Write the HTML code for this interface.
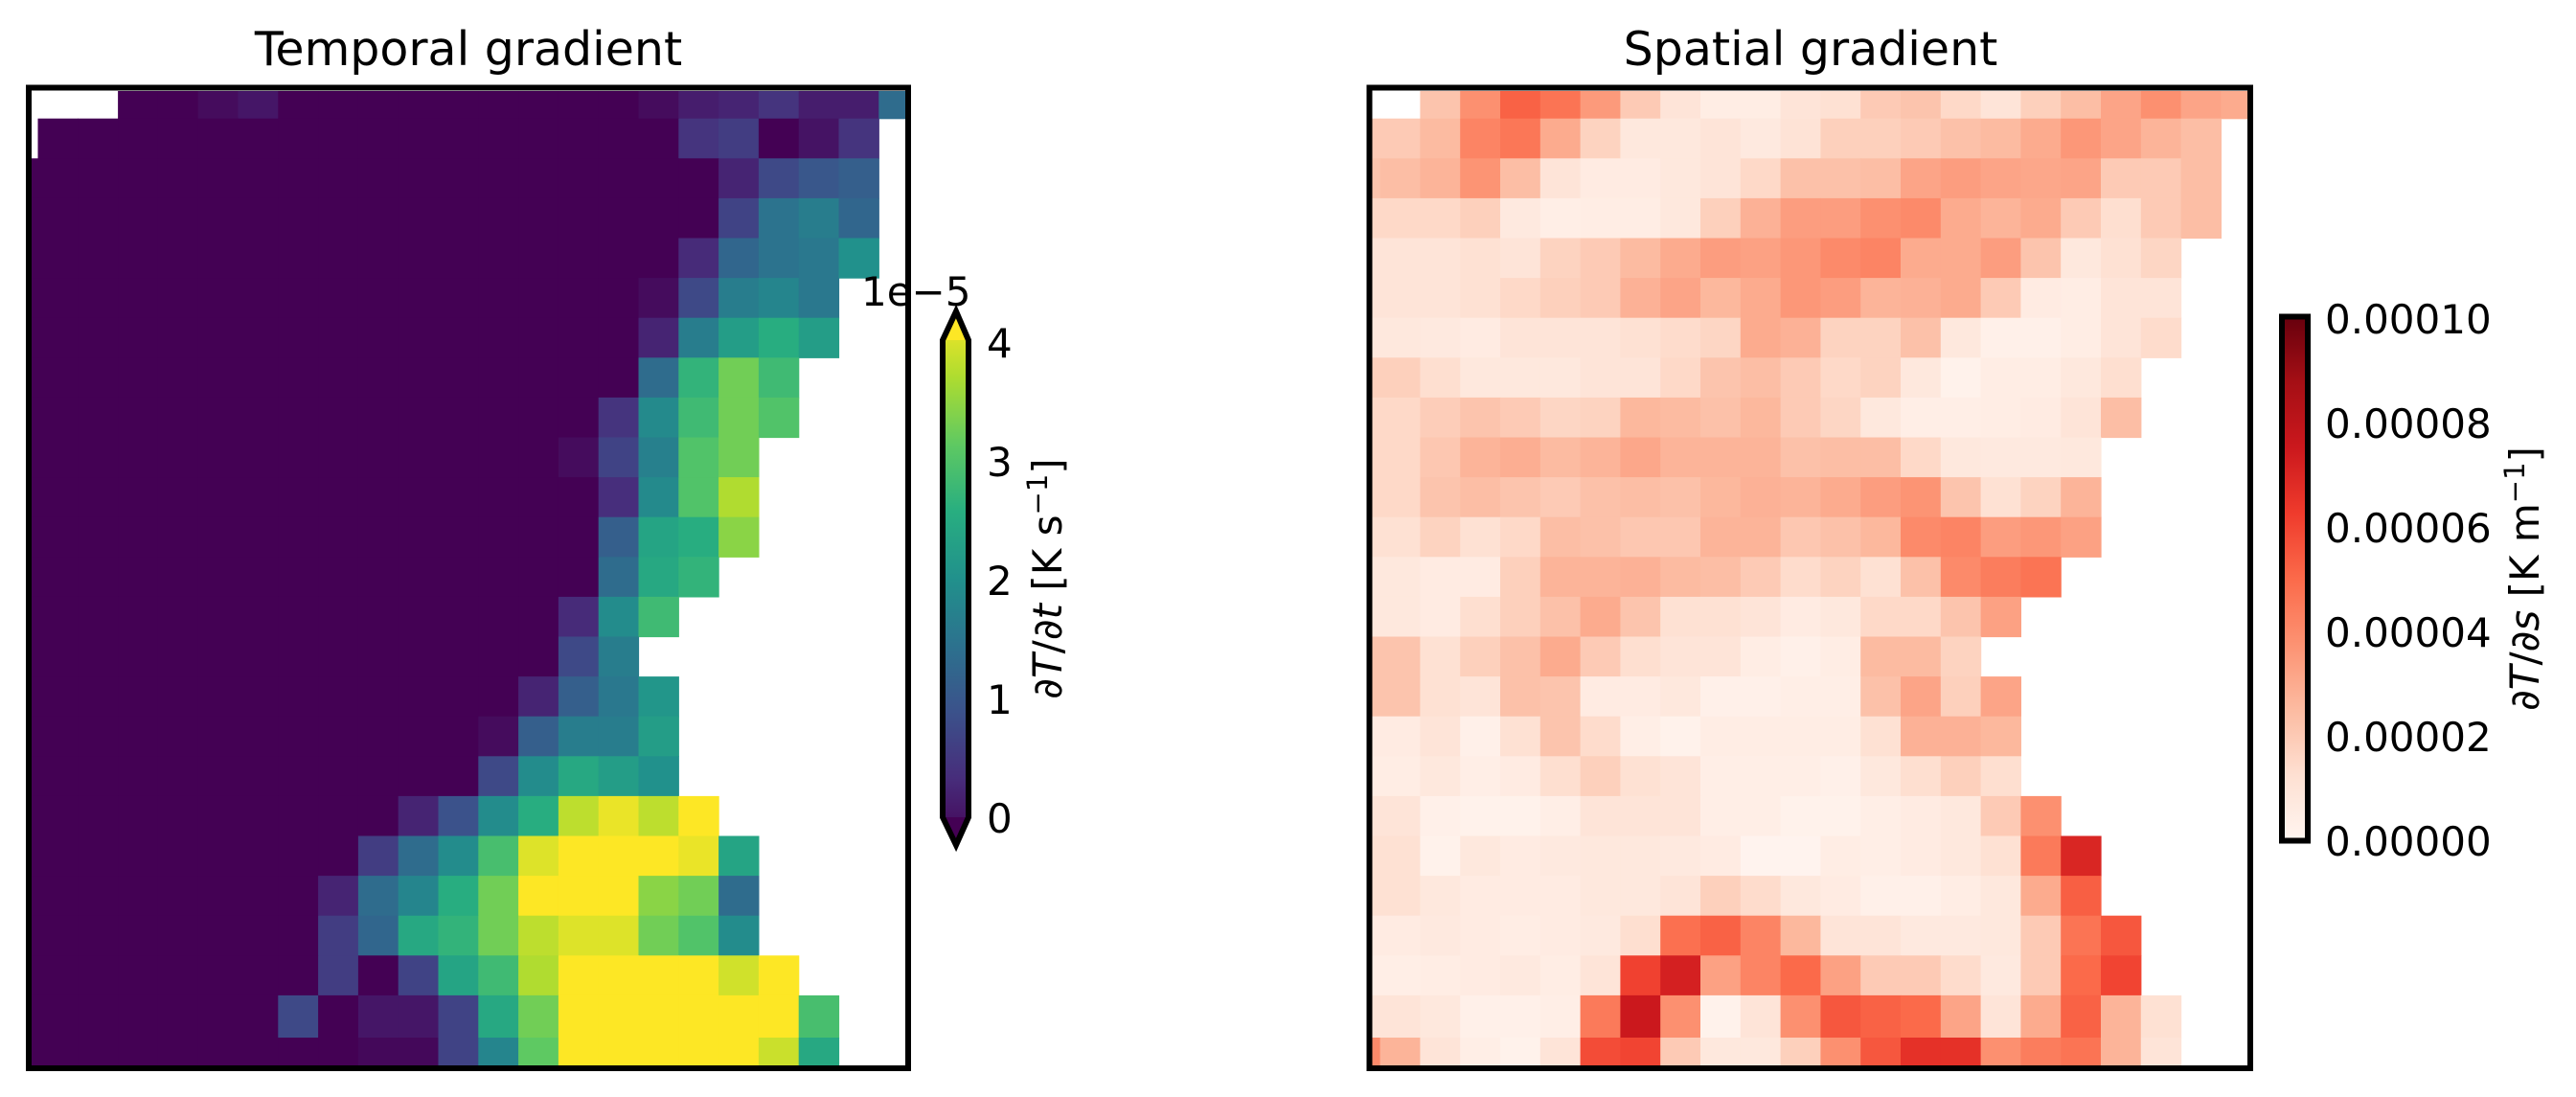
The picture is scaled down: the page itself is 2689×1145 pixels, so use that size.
<!DOCTYPE html>
<html><head><meta charset="utf-8">
<style>
html,body{margin:0;padding:0;background:#fff;}
svg{display:block;}
text{font-family:"DejaVu Sans","Liberation Sans",sans-serif;fill:#000;}
</style></head>
<body>
<svg id="s" xmlns="http://www.w3.org/2000/svg" width="2689" height="1145" viewBox="0 0 2689 1145">
<defs>
<linearGradient id="gv" x1="0" y1="1" x2="0" y2="0">
<stop offset="0" stop-color="#440154"/><stop offset=".125" stop-color="#472d7b"/><stop offset=".25" stop-color="#3b528b"/><stop offset=".375" stop-color="#2c728e"/><stop offset=".5" stop-color="#21918c"/><stop offset=".625" stop-color="#28ae80"/><stop offset=".75" stop-color="#5ec962"/><stop offset=".875" stop-color="#addc30"/><stop offset="1" stop-color="#fde725"/>
</linearGradient>
<linearGradient id="gr" x1="0" y1="1" x2="0" y2="0">
<stop offset="0" stop-color="#fff5f0"/><stop offset=".125" stop-color="#fee0d2"/><stop offset=".25" stop-color="#fcbba1"/><stop offset=".375" stop-color="#fc9272"/><stop offset=".5" stop-color="#fb6a4a"/><stop offset=".625" stop-color="#ef3b2c"/><stop offset=".75" stop-color="#cb181d"/><stop offset=".875" stop-color="#a50f15"/><stop offset="1" stop-color="#67000d"/>
</linearGradient>
</defs>
<g id="cellsL"></g>
<g id="cellsR"></g>
<rect x="30" y="91.5" width="918" height="1023.5" fill="none" stroke="#000" stroke-width="6"/>
<rect x="1429.5" y="91.5" width="919.5" height="1023.5" fill="none" stroke="#000" stroke-width="6"/>
<text x="489" y="68" font-size="49" text-anchor="middle">Temporal gradient</text>
<text x="1890" y="68" font-size="49" text-anchor="middle">Spatial gradient</text>
<polygon points="998,325 1011,355 1011,853 998,882 984,853 984,355" fill="url(#gv)"/>
<polygon points="998,325 1011,355 984,355" fill="#fde725"/>
<polygon points="998,882 1011,853 984,853" fill="#440154"/>
<polygon points="998,325 1011,355 1011,853 998,882 984,853 984,355" fill="none" stroke="#000" stroke-width="6" stroke-linejoin="miter"/>
<text x="1030" y="373" font-size="42">4</text>
<text x="1030" y="497" font-size="42">3</text>
<text x="1030" y="621" font-size="42">2</text>
<text x="1030" y="745" font-size="42">1</text>
<text x="1030" y="869" font-size="42">0</text>
<text x="899" y="319" font-size="42">1e−5</text>
<text transform="translate(1108,604) rotate(-90)" font-size="42" text-anchor="middle"><tspan font-style="italic">∂T</tspan>/<tspan font-style="italic">∂t</tspan> [K s<tspan dy="-15" font-size="29">−1</tspan><tspan dy="15">]</tspan></text>
<rect x="2382" y="330.5" width="27" height="547" fill="url(#gr)" stroke="#000" stroke-width="6"/>
<text x="2427" y="348" font-size="42">0.00010</text>
<text x="2427" y="457" font-size="42">0.00008</text>
<text x="2427" y="566" font-size="42">0.00006</text>
<text x="2427" y="675" font-size="42">0.00004</text>
<text x="2427" y="784" font-size="42">0.00002</text>
<text x="2427" y="893" font-size="42">0.00000</text>
<text transform="translate(2650,604) rotate(-90)" font-size="42" text-anchor="middle"><tspan font-style="italic">∂T</tspan>/<tspan font-style="italic">∂s</tspan> [K m<tspan dy="-15" font-size="29">−1</tspan><tspan dy="15">]</tspan></text>
</svg>
<script>
var V=[[0,"#440154"],[.125,"#472d7b"],[.25,"#3b528b"],[.375,"#2c728e"],[.5,"#21918c"],[.625,"#28ae80"],[.75,"#5ec962"],[.875,"#addc30"],[1,"#fde725"]];
var R=[[0,"#fff5f0"],[.125,"#fee0d2"],[.25,"#fcbba1"],[.375,"#fc9272"],[.5,"#fb6a4a"],[.625,"#ef3b2c"],[.75,"#cb181d"],[.875,"#a50f15"],[1,"#67000d"]];
function h(c){return [parseInt(c.substr(1,2),16),parseInt(c.substr(3,2),16),parseInt(c.substr(5,2),16)];}
function cm(m,v){if(v<0)v=0;if(v>1)v=1;for(var i=0;i<m.length-1;i++){if(v<=m[i+1][0]){var t=(v-m[i][0])/(m[i+1][0]-m[i][0]);var a=h(m[i][1]),b=h(m[i+1][1]);return "rgb("+Math.round(a[0]+(b[0]-a[0])*t)+","+Math.round(a[1]+(b[1]-a[1])*t)+","+Math.round(a[2]+(b[2]-a[2])*t)+")";}}return m[m.length-1][1];}
function r(n,l){var o=[];for(var i=0;i<n;i++)o.push(0);o=o.concat(l);while(o.length<23)o.push(-1);return o;}
function p(l){var o=l.slice();while(o.length<23)o.push(-1);return o;}
var L=[
[-1,-1,-1,0,0,.03,.06,0,0,0,0,0,0,0,0,0,.03,.08,.1,.15,.08,.08,.35],
[-1,0,0,0,0,0,0,0,0,0,0,0,0,0,0,0,0,.15,.18,0,.05,.15,-1],
r(18,[.1,.22,.27,.3]),r(18,[.2,.38,.42,.33]),r(17,[.12,.33,.38,.4,.5]),r(16,[.03,.22,.42,.45,.4]),
r(16,[.1,.42,.55,.62,.55]),r(16,[.35,.65,.78,.68]),r(15,[.15,.47,.68,.78,.72]),r(14,[.03,.2,.43,.72,.78]),
r(15,[.13,.47,.72,.88]),r(15,[.3,.58,.62,.82]),r(15,[.35,.6,.65]),r(14,[.12,.48,.68]),r(14,[.22,.42]),
r(13,[.1,.3,.4,.52]),r(12,[.03,.3,.42,.42,.55]),r(12,[.22,.48,.6,.55,.5]),
r(10,[.1,.25,.48,.62,.9,.97,.9,1]),r(9,[.18,.35,.48,.7,.95,1,1,1,.97,.58]),
r(8,[.1,.35,.45,.62,.78,1,1,1,.82,.78,.35]),r(8,[.18,.33,.6,.65,.78,.9,.95,.95,.78,.72,.48]),
r(8,[.18,0,.2,.58,.68,.88,1,1,1,1,.93,1]),r(7,[.22,0,.06,.06,.2,.6,.78,1,1,1,1,1,1,.7]),
r(9,[.02,.02,.2,.45,.75,1,1,1,1,1,.92,.6])];
var S=[
p([-1,-1,.22,.38,.52,.47,.35,.2,.1,.05,.05,.1,.12,.2,.22,.15,.1,.18,.24,.32,.38,.32,.3]),
p([.2,.2,.25,.42,.46,.3,.17,.08,.08,.1,.07,.11,.18,.18,.2,.23,.25,.3,.36,.32,.27,.24]),
p([.22,.24,.27,.37,.24,.1,.06,.06,.08,.1,.15,.23,.23,.24,.32,.34,.32,.31,.32,.2,.2,.24]),
p([.15,.15,.15,.18,.07,.04,.05,.05,.08,.18,.28,.34,.34,.38,.4,.3,.27,.3,.2,.13,.2,.24]),
p([.1,.1,.1,.12,.1,.17,.2,.25,.3,.34,.33,.36,.4,.42,.3,.3,.34,.22,.08,.12,.16]),
p([.1,.1,.1,.12,.15,.18,.2,.28,.32,.26,.3,.36,.34,.27,.28,.3,.2,.06,.05,.1,.1]),
p([.08,.08,.07,.06,.1,.1,.1,.12,.14,.16,.3,.28,.17,.17,.23,.08,.03,.03,.05,.1,.14]),
p([.18,.18,.13,.08,.08,.08,.1,.1,.15,.22,.24,.2,.15,.17,.08,.02,.05,.05,.08,.13]),
p([.15,.15,.19,.22,.2,.16,.17,.26,.25,.23,.26,.2,.16,.08,.04,.04,.05,.06,.1,.24]),
p([.15,.15,.21,.27,.29,.25,.27,.31,.27,.27,.27,.23,.24,.24,.15,.08,.07,.07,.08]),
p([.15,.15,.22,.24,.22,.2,.23,.24,.23,.26,.28,.27,.3,.34,.37,.22,.12,.17,.27]),
p([.12,.12,.17,.12,.15,.24,.23,.21,.21,.27,.27,.21,.23,.26,.4,.42,.34,.36,.33]),
p([.08,.08,.06,.06,.18,.27,.27,.28,.25,.24,.2,.14,.17,.12,.23,.4,.44,.47]),
p([.08,.08,.06,.13,.18,.23,.3,.22,.12,.12,.1,.06,.08,.15,.15,.22,.33]),
p([.22,.22,.12,.18,.23,.3,.2,.13,.1,.1,.05,.03,.05,.25,.25,.17]),
p([.22,.22,.12,.1,.23,.22,.06,.06,.08,.03,.03,.04,.04,.23,.32,.18,.32]),
p([.06,.06,.1,.03,.12,.22,.14,.04,.02,.05,.05,.05,.05,.12,.28,.28,.26]),
p([.05,.05,.08,.04,.06,.13,.18,.12,.1,.04,.04,.04,.03,.08,.13,.18,.13]),
p([.1,.1,.03,.02,.02,.04,.1,.1,.1,.04,.04,.02,.02,.04,.06,.08,.2,.38]),
p([.12,.12,.02,.08,.06,.07,.08,.08,.07,.06,.01,.01,.05,.04,.06,.08,.12,.45,.7]),
p([.12,.12,.08,.06,.06,.06,.08,.08,.1,.18,.14,.08,.06,.03,.03,.05,.08,.3,.53]),
p([.06,.06,.07,.06,.05,.06,.07,.13,.48,.52,.42,.26,.1,.1,.07,.07,.08,.2,.47,.55]),
p([.04,.04,.05,.06,.07,.05,.1,.61,.72,.33,.42,.5,.33,.2,.2,.14,.07,.2,.5,.6]),
p([.1,.1,.08,.03,.03,.04,.45,.75,.38,.02,.1,.38,.55,.52,.5,.32,.1,.3,.52,.27,.12]),
p([.4,.27,.1,.04,.02,.1,.58,.6,.2,.08,.08,.18,.38,.55,.66,.66,.38,.44,.47,.27,.1])];
function edges(a,b,s,e){var o=[a];for(var i=0;i<=21;i++)o.push(b+s*i);o.push(e);return o;}
var ye=[95];for(var i=0;i<=23;i++)ye.push(123.7+41.6*i);ye[24]=1083;ye.push(1112);
var xl=edges(33,39.5,41.8,945), xr=edges(1432,1440.6,41.8,2346);
var ns="http://www.w3.org/2000/svg";
function draw(g,d,xe,m){var G=document.getElementById(g);for(var i=0;i<25;i++)for(var j=0;j<23;j++){var v=d[i][j];if(v<0)continue;var e=document.createElementNS(ns,"rect");e.setAttribute("x",xe[j]);e.setAttribute("y",ye[i]);e.setAttribute("width",xe[j+1]-xe[j]+0.6);e.setAttribute("height",ye[i+1]-ye[i]+0.6);e.setAttribute("fill",cm(m,v));G.appendChild(e);}}
draw("cellsL",L,xl,V);draw("cellsR",S,xr,R);
</script>
</body></html>
